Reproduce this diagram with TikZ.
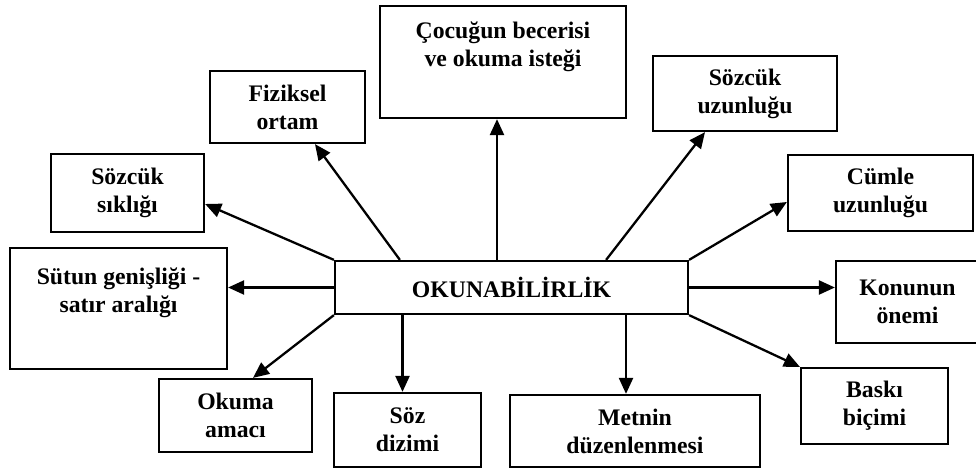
\documentclass[tikz,border=0pt]{standalone}
\usepackage{fontspec}
\setmainfont{Liberation Serif}
\usetikzlibrary{arrows.meta}
\tikzset{
  kutu/.style={draw, line width=1.3pt, align=center, inner sep=0pt,
    font=\fontsize{13.5}{15.9}\selectfont\bfseries},
  ok/.style={line width=1.3pt, -{Triangle[length=0.32cm,width=0.28cm]}}
}

\begin{document}
\begin{tikzpicture}[x=0.02cm,y=-0.02cm]
  %%%%% START %%%%%
  \useasboundingbox (0,0) rectangle (976,469);
  \clip (0,0) rectangle (976,469);

  \node[kutu, minimum width=7.06cm, minimum height=1.06cm] (merkez) at (511.5,287.5) {OKUNABİLİRLİK};

  \node[kutu, minimum width=4.92cm, minimum height=2.24cm] (cocuk) at (503,62) {Çocuğun becerisi\\ve okuma isteği\\\strut};
  \node[kutu, minimum width=3.10cm, minimum height=1.44cm] (fiziksel) at (287.5,107) {Fiziksel\\ortam};
  \node[kutu, minimum width=3.68cm, minimum height=1.50cm] (uzunluk) at (745,93.5) {Sözcük\\uzunluğu};
  \node[kutu, minimum width=3.06cm, minimum height=1.56cm] (siklik) at (127.5,193) {Sözcük\\sıklığı};
  \node[kutu, minimum width=3.70cm, minimum height=1.52cm] (cumle) at (880.5,193) {Cümle\\uzunluğu};
  \node[kutu, minimum width=4.34cm, minimum height=2.42cm] (sutun) at (118.5,308.5) {Sütun genişliği -\\satır aralığı\\\strut};
  \node[kutu, minimum width=2.86cm, minimum height=1.64cm] (konu) at (907.5,302) {Konunun\\önemi};
  \node[kutu, minimum width=3.06cm, minimum height=1.46cm] (amac) at (235.5,415.5) {Okuma\\amacı};
  \node[kutu, minimum width=2.94cm, minimum height=1.48cm] (soz) at (407.5,430) {Söz\\dizimi};
  \node[kutu, minimum width=5.00cm, minimum height=1.44cm] (metin) at (635,431) {Metnin\\düzenlenmesi};
  \node[kutu, minimum width=2.94cm, minimum height=1.52cm] (baski) at (874.5,406) {Baskı\\biçimi};

  % oklar
  \draw[ok] ([xshift=-0.12cm]cocuk.south |- merkez.north) -- ([xshift=-0.12cm]cocuk.south);
  \draw[ok] ([xshift=1.32cm]merkez.north west) -- ([xshift=0.55cm]fiziksel.south);
  \draw[ok] (merkez.north west) -- ([yshift=-0.22cm]siklik.east);
  \draw[ok] ([xshift=-1.66cm]merkez.north east) -- ([xshift=-0.8cm]uzunluk.south);
  \draw[ok] (merkez.north east) -- ([yshift=-0.18cm]cumle.west);
  \draw[ok] (merkez.west) -- (merkez.west -| sutun.east);
  \draw[ok] (merkez.east) -- (merkez.east -| konu.west);
  \draw[ok] (merkez.south west) -- ([xshift=0.35cm]amac.north);
  \draw[ok] ([xshift=-0.1cm]soz.north |- merkez.south) -- ([xshift=-0.1cm]soz.north);
  \draw[ok] ([xshift=-0.18cm]metin.north |- merkez.south) -- ([xshift=-0.18cm]metin.north);
  \draw[ok] (merkez.south east) -- (baski.north west);
  %%%%% END %%%%%
\end{tikzpicture}
\end{document}
